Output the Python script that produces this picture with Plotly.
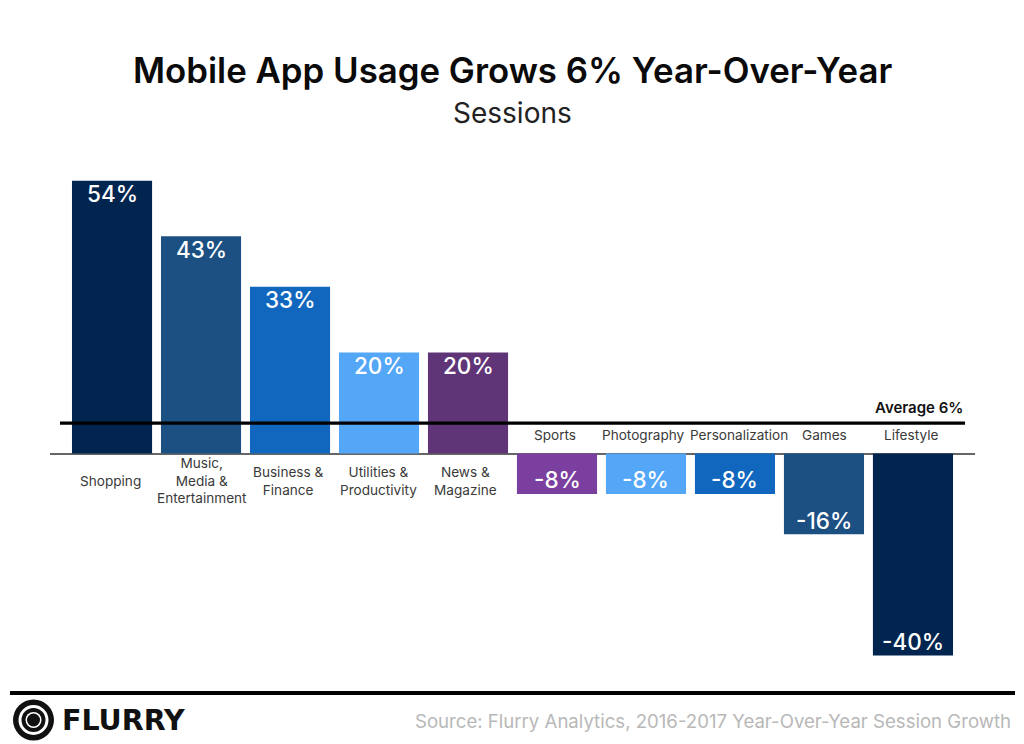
import plotly.graph_objects as go

CATEGORIES = ["Shopping", "Music,<br>Media &<br>Entertainment", "Business &<br>Finance",
              "Utilities &<br>Productivity", "News &<br>Magazine", "Sports", "Photography",
              "Personalization", "Games", "Lifestyle"]
GROWTH = [54, 43, 33, 20, 20, -8, -8, -8, -16, -40]
AVERAGE = 6
BAR_COLORS = ["#02254f", "#1c5082", "#1167bd", "#54a6f7", "#5f3578",
              "#7b3fa0", "#54a6f7", "#1167bd", "#1c5082", "#02254f"]
LABEL_XSHIFT = [-2, 1, -2, -1, -3, -2, -2, 4, 1, -2]

W, H = 1024, 744
L, R, T, B = 50, 49, 160, 74
FONT = "Inter"

def px(x):
    return (x - L) / (W - L - R)

def py(y):
    return (H - B - y) / (H - T - B)

x_idx = list(range(len(CATEGORIES)))

fig = go.Figure(go.Bar(
    x=x_idx, y=GROWTH, width=0.9,
    marker=dict(color=BAR_COLORS, line=dict(width=0)),
    hoverinfo="skip",
))

annotations = []
for i, (c, v) in enumerate(zip(CATEGORIES, GROWTH)):
    annotations.append(dict(
        x=i, y=0, xref="x", yref="y", text=c, showarrow=False,
        xanchor="center", yanchor="middle", align="center",
        xshift=LABEL_XSHIFT[i], yshift=-27 if v > 0 else 18.5,
        font=dict(family=FONT, size=13.6, color="#3a3a3a"),
    ))
    annotations.append(dict(
        x=i, y=v, xref="x", yref="y", text=f"{v}%", showarrow=False,
        xanchor="center", yanchor="middle", yshift=-13 if v > 0 else 14,
        font=dict(family=FONT, size=22.5, color="white", weight=500),
    ))

def note(x, y, text, size, color, anchor="center", weight=400, family=FONT):
    annotations.append(dict(
        x=px(x), y=py(y), xref="paper", yref="paper", text=text, showarrow=False,
        xanchor=anchor, yanchor="middle",
        font=dict(family=family, size=size, color=color, weight=weight),
    ))

note(512.5, 70, "Mobile App Usage Grows 6% Year-Over-Year", 34.8, "#0a0a0a", weight=600)
note(512, 113, "Sessions", 28, "#222222")
note(965, 407, f"Average {AVERAGE}%", 15, "#111111", anchor="right", weight=600)
note(1013, 721, "Source: Flurry Analytics, 2016-2017 Year-Over-Year Session Growth", 18.6, "#b8b8b8", anchor="right")
note(60, 720, "FLURRY", 28.5, "#111111", anchor="left", weight=700, family="DejaVu Sans")

shapes = [
    dict(type="line", xref="paper", yref="y", x0=px(60), x1=px(965), y0=AVERAGE, y1=AVERAGE,
         line=dict(color="black", width=3.2), layer="above"),
    dict(type="line", xref="paper", yref="paper", x0=px(10), x1=px(1015), y0=py(693), y1=py(693),
         line=dict(color="black", width=4), layer="above"),
]
for r, fill in [(20.5, "#111111"), (15, "white"), (12, "#111111"), (8, "white"), (6.5, "#111111")]:
    shapes.append(dict(type="circle", xref="paper", yref="paper", x0=px(33.5 - r), x1=px(33.5 + r),
                       y0=py(720 + r), y1=py(720 - r), fillcolor=fill, line=dict(width=0), layer="above"))

fig.update_layout(
    width=W, height=H, margin=dict(l=L, r=R, t=T, b=B, pad=0, autoexpand=False),
    paper_bgcolor="white", plot_bgcolor="white", showlegend=False,
    annotations=annotations, shapes=shapes, bargap=0.1,
    xaxis=dict(range=[-0.697, 9.697], visible=False, fixedrange=True),
    yaxis=dict(range=[-42.87, 58.12], showgrid=False, showticklabels=False, ticks="",
               zeroline=True, zerolinecolor="#666666", zerolinewidth=1.5, showline=False, fixedrange=True),
)

fig.write_html("out.html", config={"displayModeBar": False},
               post_script="document.body.style.margin='0';")
